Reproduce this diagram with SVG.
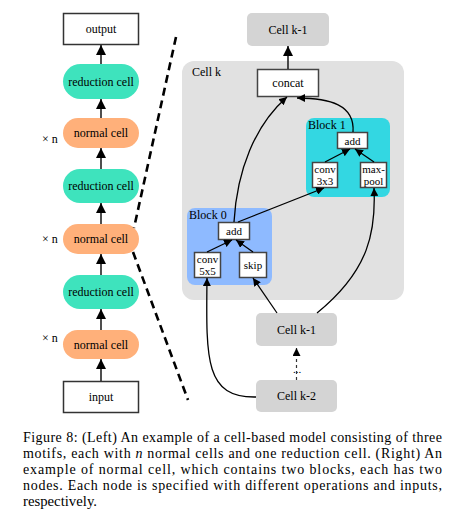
<svg xmlns="http://www.w3.org/2000/svg" width="451" height="527" viewBox="0 0 451 527">
<defs>
<marker id="ah" viewBox="0 0 10 10" refX="10" refY="5" markerWidth="8" markerHeight="8" markerUnits="userSpaceOnUse" orient="auto">
<path d="M0,0 L10,5 L0,10 z" fill="#000"/>
</marker>
<marker id="ahl" viewBox="0 0 10 10" refX="10" refY="5" markerWidth="10" markerHeight="10" markerUnits="userSpaceOnUse" orient="auto">
<path d="M0,0 L10,5 L0,10 z" fill="#000"/>
</marker>
</defs>
<style>
text{font-family:"Liberation Serif",serif;fill:#000}
.t{font-size:12px;text-anchor:middle}
.s{font-size:11px;text-anchor:middle}
.box{fill:#fff;stroke:#333;stroke-width:1.5}
.sbox{fill:#fff;stroke:#444;stroke-width:1.5}
.red{fill:#3ee3bd}
.nor{fill:#ffb07a}
.gray{fill:#d4d4d4}
.e{fill:none;stroke:#000;stroke-width:1.3;marker-end:url(#ah)}
.el{fill:none;stroke:#222;stroke-width:1.6;marker-end:url(#ahl)}
.dash{fill:none;stroke:#000;stroke-width:2.6;stroke-dasharray:8,5}
.cap{font-size:14px}
</style>

<!-- left column -->
<g id="output"><rect class="box" x="63.5" y="13.5" width="75" height="31"/><text class="t" x="101" y="33">output</text></g>
<g id="red1"><rect class="red" x="63" y="64" width="76" height="35" rx="17.5"/><text class="t" x="101" y="86">reduction cell</text></g>
<g id="norm1"><rect class="nor" x="63" y="118" width="76" height="30" rx="15"/><text class="t" x="101" y="137">normal cell</text></g>
<g id="red2"><rect class="red" x="63" y="169" width="76" height="34" rx="17"/><text class="t" x="101" y="190">reduction cell</text></g>
<g id="norm2"><rect class="nor" x="63" y="224" width="76" height="30" rx="15"/><text class="t" x="101" y="243">normal cell</text></g>
<g id="red3"><rect class="red" x="63" y="275" width="76" height="34" rx="17"/><text class="t" x="101" y="296">reduction cell</text></g>
<g id="norm3"><rect class="nor" x="63" y="330" width="76" height="29" rx="14.5"/><text class="t" x="101" y="349">normal cell</text></g>
<g id="input"><rect class="box" x="63.5" y="381.5" width="75" height="31"/><text class="t" x="101" y="401">input</text></g>
<g id="xn"><text x="42" y="143" font-size="12">× n</text><text x="42" y="243" font-size="12">× n</text><text x="42" y="342" font-size="12">× n</text></g>

<!-- right side -->
<g id="cellk"><rect fill="#e1e1e1" x="182" y="61" width="222" height="239" rx="12"/><text x="192" y="76" font-size="12">Cell k</text></g>
<g id="cellkm1top"><rect class="gray" x="247" y="13" width="82" height="33" rx="5"/><text class="t" x="288" y="34">Cell k-1</text></g>
<g id="concat"><rect class="sbox" x="257.5" y="69.5" width="61" height="27"/><text class="t" x="288" y="87">concat</text></g>
<g id="block1"><rect fill="#33d7e2" x="306" y="118" width="84" height="79" rx="8"/><text x="308" y="129" font-size="12">Block 1</text></g>
<g id="add1"><rect class="sbox" x="337.5" y="132.5" width="30" height="16"/><text class="s" x="352.5" y="144.5">add</text></g>
<g id="conv3"><rect class="sbox" x="312.5" y="162.5" width="25" height="25"/><text class="s" x="325" y="173">conv</text><text class="s" x="325" y="185">3x3</text></g>
<g id="maxpool"><rect class="sbox" x="360.5" y="162.5" width="26" height="25"/><text class="s" x="373.5" y="173">max-</text><text class="s" x="373.5" y="185">pool</text></g>
<g id="block0"><rect fill="#8ebaff" x="187" y="208" width="85" height="77" rx="8"/><text x="189" y="219" font-size="12">Block 0</text></g>
<g id="add0"><rect class="sbox" x="218.5" y="222.5" width="31" height="17"/><text class="s" x="234" y="235">add</text></g>
<g id="conv5"><rect class="sbox" x="194.5" y="252.5" width="26" height="25"/><text class="s" x="207.5" y="263">conv</text><text class="s" x="207.5" y="275">5x5</text></g>
<g id="skip"><rect class="sbox" x="239.5" y="252.5" width="27" height="25"/><text class="s" x="253" y="269">skip</text></g>
<g id="cellkm1"><rect class="gray" x="256" y="313" width="81" height="33" rx="5"/><text class="t" x="296.5" y="334">Cell k-1</text></g>
<g id="cellkm2"><rect class="gray" x="256" y="380" width="81" height="32" rx="5"/><text class="t" x="296.5" y="400">Cell k-2</text></g>
<g id="dots"><text class="s" x="297" y="373" fill="#333">...</text></g>

<g id="connectors">
<line class="el" x1="101" y1="64" x2="101" y2="45"/>
<line class="el" x1="101" y1="118" x2="101" y2="99"/>
<line class="el" x1="101" y1="169" x2="101" y2="148"/>
<line class="el" x1="101" y1="224" x2="101" y2="203"/>
<line class="el" x1="101" y1="275" x2="101" y2="254"/>
<line class="el" x1="101" y1="330" x2="101" y2="309"/>
<line class="el" x1="101" y1="381" x2="101" y2="359"/>
<path class="dash" d="M176,37 L134,228"/>
<path class="dash" d="M133,252 L188,400"/>
<line class="el" x1="288" y1="69" x2="288" y2="46"/>
<path class="e" d="M256,397 C205,398 206,360 207,278"/>
<line class="e" x1="277" y1="313" x2="253" y2="278"/>
<path class="e" d="M317,313 C370,270 376,230 374,188"/>
<line class="e" x1="207" y1="252" x2="232" y2="240"/>
<line class="e" x1="253" y1="252" x2="236" y2="240"/>
<path class="e" d="M234,222 C237,170 255,125 287,97"/>
<line class="e" x1="238" y1="222" x2="324" y2="188"/>
<line class="e" x1="325" y1="162" x2="350" y2="149"/>
<line class="e" x1="374" y1="162" x2="355" y2="149"/>
<path class="e" d="M353,132 C355,105 330,98 297,98"/>
<line x1="296.5" y1="380" x2="296.5" y2="348" stroke="#333" stroke-width="1.2" stroke-dasharray="3,3" marker-end="url(#ah)"/>
</g>

<!-- caption -->
<g id="caption">
<text class="cap" x="23" y="442" textLength="419" lengthAdjust="spacing">Figure 8: (Left) An example of a cell-based model consisting of three</text>
<text class="cap" x="23" y="458" textLength="419" lengthAdjust="spacing">motifs, each with <tspan font-style="italic">n</tspan> normal cells and one reduction cell. (Right) An</text>
<text class="cap" x="23" y="474" textLength="419" lengthAdjust="spacing">example of normal cell, which contains two blocks, each has two</text>
<text class="cap" x="23" y="490" textLength="419" lengthAdjust="spacing">nodes. Each node is specified with different operations and inputs,</text>
<text class="cap" x="23" y="506" textLength="74" lengthAdjust="spacingAndGlyphs">respectively.</text>
</g>
</svg>
